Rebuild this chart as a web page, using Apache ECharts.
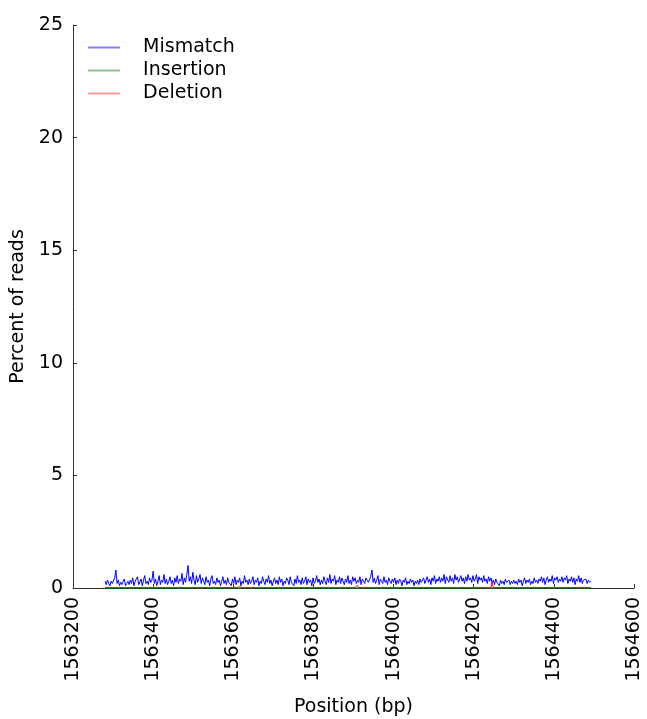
<!DOCTYPE html>
<html>
<head>
<meta charset="utf-8">
<script src="https://cdn.jsdelivr.net/npm/echarts@6/dist/echarts.min.js"></script>
<style>
html,body{margin:0;padding:0;background:#fff;}
#chart{width:647px;height:719px;}
</style>
</head>
<body>
<div id="chart"></div>
<script>
// Positions (bp): one sample every 3 bp from 1563280 to 1564492
var positionStart = 1563280;
var positionStep = 3;

var mismatch = [
  0.3,0.15,0.35,0.2,0.1,0.3,0.2,0.15,0.45,0.8,0.2,0.35,0.1,0.25,0.15,0.3,0.4,0.1,0.2,0.3,
  0.15,0.35,0.2,0.45,0.1,0.3,0.25,0.5,0.15,0.2,0.4,0.1,0.35,0.55,0.2,0.3,0.15,0.45,0.25,0.35,
  0.75,0.2,0.4,0.1,0.3,0.55,0.15,0.35,0.25,0.6,0.2,0.4,0.15,0.3,0.5,0.2,0.35,0.1,0.45,0.25,
  0.55,0.2,0.4,0.3,0.65,0.15,0.45,0.25,0.6,1.0,0.3,0.5,0.2,0.7,0.35,0.15,0.55,0.25,0.4,0.6,
  0.2,0.45,0.3,0.15,0.5,0.25,0.35,0.1,0.4,0.55,0.2,0.3,0.15,0.45,0.25,0.35,0.1,0.3,0.5,0.2,
  0.35,0.15,0.45,0.25,0.3,0.1,0.4,0.2,0.5,0.15,0.35,0.25,0.45,0.1,0.3,0.2,0.55,0.25,0.35,0.15,
  0.4,0.2,0.3,0.5,0.15,0.35,0.25,0.45,0.1,0.3,0.2,0.5,0.3,0.15,0.4,0.25,0.55,0.2,0.35,0.1,
  0.3,0.45,0.2,0.35,0.15,0.5,0.25,0.4,0.1,0.3,0.2,0.45,0.35,0.15,0.5,0.25,0.3,0.1,0.4,0.2,
  0.55,0.25,0.35,0.15,0.45,0.2,0.3,0.5,0.15,0.4,0.25,0.35,0.1,0.45,0.2,0.3,0.55,0.25,0.4,0.15,
  0.35,0.2,0.5,0.3,0.15,0.45,0.25,0.6,0.2,0.4,0.3,0.55,0.15,0.35,0.25,0.5,0.2,0.45,0.3,0.15,
  0.4,0.25,0.55,0.2,0.35,0.15,0.5,0.3,0.45,0.2,0.35,0.25,0.5,0.15,0.4,0.3,0.2,0.45,0.35,0.25,
  0.3,0.5,0.8,0.25,0.45,0.2,0.35,0.55,0.15,0.4,0.3,0.2,0.5,0.25,0.35,0.15,0.45,0.3,0.2,0.4,
  0.25,0.45,0.15,0.35,0.2,0.4,0.3,0.1,0.35,0.25,0.45,0.15,0.3,0.2,0.4,0.25,0.35,0.1,0.3,0.2,
  0.35,0.15,0.4,0.25,0.3,0.45,0.2,0.35,0.5,0.25,0.4,0.15,0.45,0.3,0.55,0.2,0.4,0.3,0.5,0.25,
  0.45,0.3,0.6,0.2,0.5,0.35,0.25,0.55,0.3,0.45,0.2,0.6,0.35,0.5,0.25,0.4,0.55,0.3,0.45,0.2,
  0.5,0.3,0.6,0.35,0.45,0.25,0.55,0.3,0.4,0.6,0.2,0.5,0.35,0.45,0.25,0.55,0.3,0.4,0.2,0.5,
  0.3,0.45,0.2,0.35,0.15,0.4,0.25,0.3,0.1,0.35,0.2,0.3,0.15,0.4,0.25,0.2,0.35,0.15,0.3,0.2,
  0.35,0.2,0.3,0.15,0.4,0.25,0.35,0.1,0.3,0.45,0.2,0.35,0.25,0.4,0.15,0.3,0.2,0.45,0.25,0.35,
  0.2,0.4,0.3,0.5,0.25,0.45,0.15,0.35,0.5,0.25,0.4,0.3,0.55,0.2,0.45,0.35,0.5,0.25,0.4,0.3,
  0.5,0.25,0.45,0.35,0.55,0.2,0.4,0.3,0.5,0.25,0.45,0.15,0.4,0.3,0.55,0.25,0.45,0.2,0.35,0.3,
  0.4,0.2,0.35,0.25,0.3
];

var insertion = [
  0,0,0,0,0,0,0,0,0,0,0,0,0,0,0,0,0,0,0,0,
  0,0,0,0,0,0,0,0,0,0,0,0,0,0,0,0,0,0,0,0,
  0,0,0,0,0,0,0,0,0,0,0,0,0,0,0,0,0,0,0,0,
  0,0,0,0,0,0,0,0,0,0,0,0,0,0,0,0,0,0,0,0,
  0,0,0,0,0,0,0,0,0,0,0,0,0,0,0,0,0,0,0,0,
  0,0,0,0,0,0,0,0,0,0,0,0,0,0,0,0,0,0,0,0,
  0,0,0,0,0,0,0,0,0,0,0,0,0,0,0,0,0,0,0,0,
  0,0,0,0,0,0,0,0,0,0,0,0,0,0,0,0,0,0,0,0,
  0,0,0,0,0,0,0,0,0,0,0,0,0,0,0,0,0,0,0,0,
  0,0,0,0,0,0,0,0,0,0,0,0,0,0,0,0,0,0,0,0,
  0,0,0,0,0,0,0,0,0,0,0,0,0,0,0,0,0,0,0,0,
  0,0,0,0,0,0,0,0,0,0,0,0,0,0,0,0,0,0,0,0,
  0,0,0,0,0,0,0,0,0,0,0,0,0,0,0,0,0,0,0,0,
  0,0,0,0,0,0,0,0,0,0,0,0,0,0,0,0,0,0,0,0,
  0,0,0,0,0,0,0,0,0,0,0,0,0,0,0,0,0,0,0,0,
  0,0,0,0,0,0,0,0,0,0,0,0,0,0,0,0,0,0,0,0,
  0,0,0,0,0,0,0,0,0,0,0,0,0,0,0,0,0,0,0,0,
  0,0,0,0,0,0,0,0,0,0,0,0,0,0,0,0,0,0,0,0,
  0,0,0,0,0,0,0,0,0,0,0,0,0,0,0,0,0,0,0,0,
  0,0,0,0,0,0,0,0,0,0,0,0,0,0,0,0,0,0,0,0,
  0,0,0,0,0
];

var deletion = [
  0.02,0.02,0.03,0.02,0.02,0.02,0.03,0.02,0.02,0.02,0.03,0.02,0.02,0.02,0.02,0.03,0.02,0.02,0.02,0.02,
  0.02,0.03,0.02,0.02,0.02,0.02,0.02,0.03,0.02,0.02,0.02,0.02,0.03,0.02,0.02,0.02,0.02,0.02,0.03,0.02,
  0.02,0.02,0.02,0.03,0.02,0.02,0.02,0.02,0.02,0.03,0.02,0.02,0.02,0.02,0.03,0.02,0.02,0.02,0.02,0.02,
  0.02,0.02,0.03,0.02,0.02,0.02,0.02,0.03,0.02,0.02,0.02,0.03,0.02,0.02,0.02,0.02,0.02,0.03,0.02,0.02,
  0.02,0.02,0.02,0.03,0.02,0.02,0.02,0.02,0.02,0.02,0.03,0.02,0.02,0.02,0.02,0.02,0.03,0.02,0.02,0.02,
  0.02,0.03,0.02,0.02,0.02,0.02,0.02,0.02,0.03,0.02,0.02,0.02,0.06,0.02,0.02,0.03,0.02,0.02,0.02,0.02,
  0.02,0.02,0.02,0.03,0.02,0.02,0.02,0.02,0.02,0.02,0.03,0.02,0.02,0.02,0.02,0.02,0.02,0.03,0.02,0.02,
  0.02,0.02,0.02,0.02,0.03,0.02,0.02,0.02,0.02,0.02,0.02,0.03,0.02,0.02,0.02,0.02,0.02,0.02,0.03,0.02,
  0.02,0.02,0.02,0.02,0.02,0.03,0.02,0.02,0.02,0.02,0.02,0.02,0.03,0.02,0.02,0.02,0.02,0.02,0.02,0.03,
  0.02,0.02,0.02,0.02,0.02,0.02,0.03,0.02,0.02,0.02,0.02,0.02,0.02,0.03,0.02,0.02,0.02,0.02,0.03,0.02,
  0.02,0.02,0.02,0.02,0.02,0.03,0.02,0.02,0.02,0.02,0.12,0.02,0.03,0.02,0.02,0.02,0.02,0.02,0.02,0.03,
  0.02,0.02,0.02,0.02,0.03,0.02,0.02,0.02,0.02,0.02,0.02,0.03,0.02,0.02,0.02,0.02,0.02,0.03,0.02,0.02,
  0.02,0.02,0.03,0.02,0.02,0.02,0.02,0.02,0.03,0.02,0.02,0.02,0.02,0.02,0.02,0.03,0.02,0.02,0.02,0.02,
  0.02,0.03,0.02,0.02,0.02,0.02,0.02,0.02,0.03,0.02,0.02,0.02,0.02,0.02,0.03,0.02,0.02,0.02,0.02,0.02,
  0.02,0.02,0.02,0.03,0.02,0.02,0.02,0.02,0.02,0.02,0.03,0.02,0.02,0.02,0.02,0.02,0.02,0.03,0.02,0.02,
  0.02,0.02,0.03,0.02,0.02,0.02,0.02,0.02,0.02,0.03,0.02,0.02,0.02,0.02,0.02,0.03,0.02,0.02,0.02,0.02,
  0.02,0.02,0.27,0.02,0.02,0.02,0.03,0.02,0.02,0.02,0.02,0.02,0.03,0.02,0.02,0.02,0.02,0.02,0.02,0.03,
  0.02,0.02,0.02,0.02,0.03,0.02,0.02,0.02,0.02,0.02,0.02,0.03,0.02,0.02,0.02,0.02,0.02,0.03,0.02,0.02,
  0.02,0.03,0.02,0.02,0.02,0.02,0.02,0.02,0.03,0.02,0.02,0.02,0.02,0.02,0.03,0.02,0.02,0.02,0.02,0.02,
  0.02,0.02,0.02,0.03,0.02,0.02,0.02,0.02,0.02,0.02,0.03,0.02,0.02,0.02,0.02,0.02,0.02,0.03,0.02,0.02,
  0.02,0.02,0.03,0.02,0.02
];

var seriesNames = ['Mismatch', 'Insertion', 'Deletion'];
var seriesColors = ['#0000ff', '#008000', '#ff0000'];
var legendColors = ['#8080ff', '#8fc48f', '#ff9a9a'];
var xMin = 1563200, xMax = 1564600, xInterval = 200;
var yMin = 0, yMax = 25, yInterval = 5;

function pairs(vals) {
  var out = [];
  for (var i = 0; i < vals.length; i++) {
    out.push([positionStart + i * positionStep, vals[i]]);
  }
  return out;
}

var font = 'DejaVu Sans';
var axisColor = '#333';
var chart = echarts.init(document.getElementById('chart'), null, {renderer: 'canvas'});
var seriesData = [mismatch, insertion, deletion];
var series = seriesNames.map(function (n, i) {
  return {
    name: n,
    type: 'line',
    symbol: 'none',
    showSymbol: false,
    animation: false,
    data: pairs(seriesData[i]),
    lineStyle: {color: seriesColors[i], width: 1},
    itemStyle: {color: seriesColors[i]},
    z: 2 + i
  };
});

chart.setOption({
  backgroundColor: '#fff',
  animation: false,
  grid: {left: 73, right: 13, top: 25, bottom: 131, containLabel: false, outerBoundsMode: 'none'},
  legend: {
    orient: 'vertical',
    left: 82,
    top: 33,
    itemWidth: 32,
    itemHeight: 14,
    itemGap: 4,
    data: seriesNames.map(function (n, i) {
      return {
        name: n,
        lineStyle: {color: legendColors[i], width: 2},
        itemStyle: {color: 'rgba(0,0,0,0)', borderWidth: 0, borderColor: 'rgba(0,0,0,0)'}
      };
    }),
    formatter: function (name) { return '   ' + name; },
    textStyle: {fontFamily: font, fontSize: 19, color: '#000'}
  },
  xAxis: {
    type: 'value',
    min: xMin, max: xMax, interval: xInterval,
    name: 'Position (bp)',
    nameLocation: 'middle',
    nameGap: 110,
    nameTextStyle: {fontFamily: font, fontSize: 19, color: '#000'},
    axisLine: {lineStyle: {color: axisColor, width: 1}},
    axisTick: {inside: true, length: 4, lineStyle: {color: axisColor}},
    splitLine: {show: false},
    axisLabel: {rotate: 90, margin: 9, fontFamily: font, fontSize: 19, color: '#000',
      formatter: function (v) { return String(v); }}
  },
  yAxis: {
    type: 'value',
    min: yMin, max: yMax, interval: yInterval,
    name: 'Percent of reads',
    nameLocation: 'middle',
    nameGap: 33,
    nameTextStyle: {fontFamily: font, fontSize: 19, color: '#000'},
    axisLine: {show: true, lineStyle: {color: axisColor, width: 1}},
    axisTick: {show: true, inside: true, length: 4, lineStyle: {color: axisColor}},
    splitLine: {show: false},
    axisLabel: {margin: 10, fontFamily: font, fontSize: 19, color: '#000'}
  },
  series: series
});
</script>
</body>
</html>
